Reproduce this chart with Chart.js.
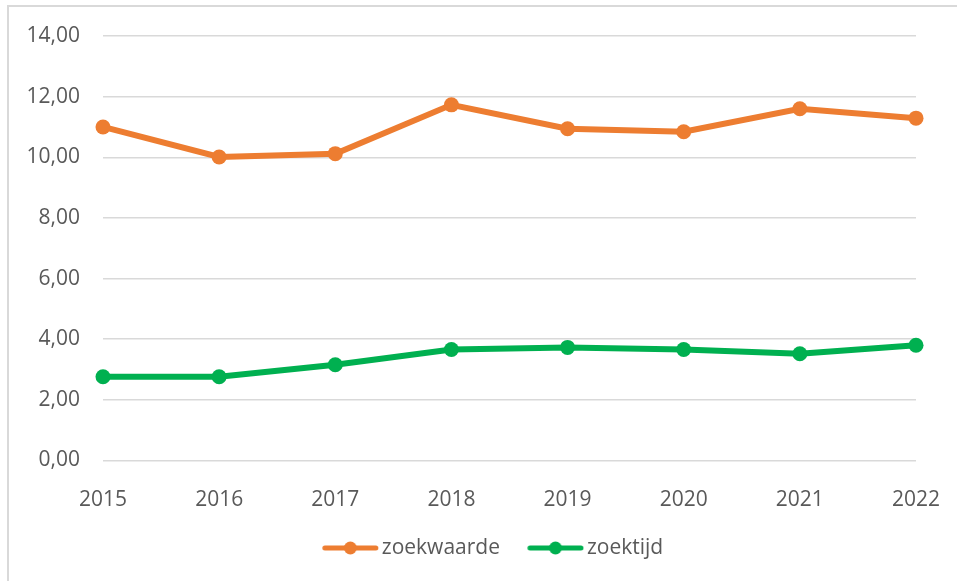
<!DOCTYPE html>
<html lang="nl"><head>
<title>zoekwaarde en zoektijd</title>
<meta charset="utf-8">
<style type="text/css">
body { margin:0; overflow:hidden; background:#ffffff; }
#wrap { position:relative; width:957px; height:581px; }
#frame { position:absolute; left:7px; top:5px; width:2000px; height:2000px;
         border-left:2px solid #d9d9d9; border-top:2px solid #d9d9d9; }
#chart1 { position:absolute; left:0; top:0; width:957px; height:581px; }
</style>
<script src="https://cdn.jsdelivr.net/npm/chart.js"></script>
<script>
// waarden
var jaren=['2015','2016','2017','2018','2019','2020','2021','2022'];
var zoekwaarde=[11.00,10.01,10.12,11.73,10.94,10.84,11.60,11.29];
var zoektijd=[2.76,2.76,3.16,3.66,3.73,3.66,3.52,3.80];
var yTicks=[0,2,4,6,8,10,12,14];

var oranje='#ed7d31', groen='#00b050', grijs='#595959';

// legend icoon: lijn met punt, iets naar rechts in een breder vlak
function legendIcon(kleur) {
  var c=document.createElement('canvas'); c.width=68; c.height=16;
  var x=c.getContext('2d'), a=10.75;
  x.strokeStyle=kleur; x.lineWidth=5; x.lineCap='round';
  x.beginPath(); x.moveTo(a+3,8); x.lineTo(a+54,8); x.stroke();
  x.fillStyle=kleur; x.beginPath(); x.arc(a+28.5,8,6.5,0,2*Math.PI); x.fill();
  return c; }

var shiftLegend={id:'shiftLegend',afterLayout:function(chart){
  chart.legend.left+=33; chart.legend.right+=33; }};

function initChart() {
  var font={family:'"Open Sans"',size:21};
  data={labels:jaren,datasets:[{
    label:'zoekwaarde',data:zoekwaarde,
    borderColor:oranje,backgroundColor:oranje,borderWidth:6,
    pointRadius:7.5,pointHoverRadius:7.5,pointBorderWidth:0,pointBackgroundColor:oranje,
    tension:0,clip:false},{
    label:'zoektijd',data:zoektijd,
    borderColor:groen,backgroundColor:groen,borderWidth:6,
    pointRadius:7.5,pointHoverRadius:7.5,pointBorderWidth:0,pointBackgroundColor:groen,
    tension:0,clip:false}]};

  config={type:'line',data:data,plugins:[shiftLegend],options:{
    responsive:false,animation:false,
    layout:{padding:{left:0,right:41,top:36,bottom:12.5}},
    scales:{
      x:{offset:false,grid:{display:false},border:{display:false},
        ticks:{color:grijs,font:{family:'"Open Sans"',size:21,lineHeight:1.7},padding:14,maxRotation:0},
        afterFit:function(s){s.height=53;}},
      y:{min:0,max:14,
        afterBuildTicks:function(s){s.ticks=yTicks.map(function(v){return {value:v};});},
        grid:{color:'#d9d9d9',lineWidth:1.5,drawTicks:false},border:{display:false},
        ticks:{color:grijs,font:font,padding:23,
          callback:function(v){return v.toFixed(2).replace('.',',');}},
        afterFit:function(s){s.width=103;}}},
    plugins:{
      tooltip:{enabled:false},
      legend:{position:'bottom',
        labels:{color:grijs,font:font,usePointStyle:true,pointStyleWidth:52.5,padding:24,
          generateLabels:function(chart){
            var items=Chart.defaults.plugins.legend.labels.generateLabels(chart);
            items.forEach(function(it,i){
              it.pointStyle=legendIcon(chart.data.datasets[i].borderColor);
              it.fontColor=grijs; });
            return items; }}}}}};

  myChart=new Chart(document.getElementById('myChart'),config); }
</script></head>
<body onload="initChart();">
<div id="wrap">
  <div id="frame"></div>
  <div id="chart1"><canvas id="myChart" width="957" height="581"></canvas></div>
</div>
</body></html>
